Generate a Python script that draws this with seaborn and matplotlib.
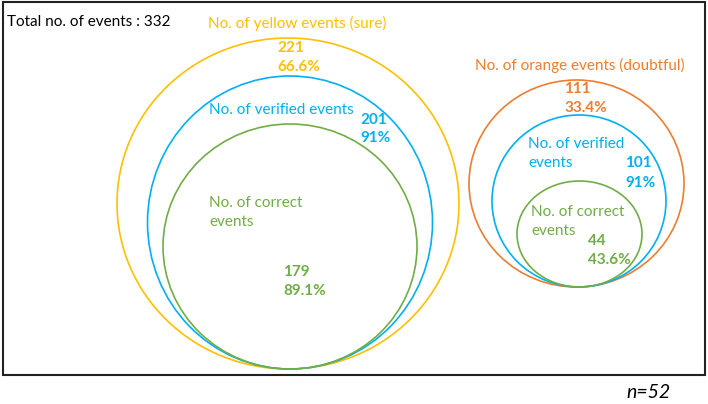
import matplotlib
matplotlib.use("Agg")
import matplotlib.pyplot as plt
from matplotlib.patches import Ellipse, Rectangle
import seaborn as sns

# Данные
total_events = 332
n_cases = 52
groups = ["yellow", "orange"]
group_labels = ["No. of yellow events (sure)", "No. of orange events (doubtful)"]
group_counts = [221, 111]
group_pct = ["66.6%", "33.4%"]
verified_counts = [201, 101]
verified_pct = ["91%", "91%"]
correct_counts = [179, 44]
correct_pct = ["89.1%", "43.6%"]

# Цвета (палитра Office)
c_group = ["#FFC000", "#ED7D31"]
c_verified = "#00B0F0"
c_correct = "#70AD47"

sns.set_theme(style="white")
plt.rcParams["font.family"] = ["Lato", "DejaVu Sans"]

fig = plt.figure(figsize=(7.08, 4.04), dpi=100)
ax = fig.add_axes([0, 0, 1, 1])
ax.set_xlim(0, 708)
ax.set_ylim(404, 0)
ax.axis("off")

# Рамка
ax.add_patch(Rectangle((3, 2), 702, 373, fill=False, lw=1.5, ec="#222222"))

# Геометрия кругов (центр x, центр y, ширина, высота)
outer = [(288, 203.5, 342, 331), (576.5, 183.5, 215, 207)]
middle = [(290, 222.5, 285, 293), (579, 201, 174, 172)]
inner = [(290, 246.5, 254, 245), (579.5, 234, 125, 106)]

for i in range(len(groups)):
    for geo, col in [(outer[i], c_group[i]), (middle[i], c_verified), (inner[i], c_correct)]:
        ax.add_patch(Ellipse((geo[0], geo[1]), geo[2], geo[3], fill=False, lw=1.2, ec=col))

fs = 11
ax.text(7, 22, f"Total no. of events : {total_events}", fontsize=fs, color="black", va="center")

# Левая группа
ax.text(208, 23, group_labels[0], fontsize=fs, color=c_group[0], va="center")
ax.text(277, 48, str(group_counts[0]), fontsize=fs, color=c_group[0], va="center", fontweight="bold")
ax.text(277, 67, group_pct[0], fontsize=fs, color=c_group[0], va="center", fontweight="bold")
ax.text(209, 110, "No. of verified events", fontsize=fs, color=c_verified, va="center")
ax.text(360, 120, str(verified_counts[0]), fontsize=fs, color=c_verified, va="center", fontweight="bold")
ax.text(360, 138, verified_pct[0], fontsize=fs, color=c_verified, va="center", fontweight="bold")
ax.text(209, 203, "No. of correct", fontsize=fs, color=c_correct, va="center")
ax.text(209, 222, "events", fontsize=fs, color=c_correct, va="center")
ax.text(283, 272, str(correct_counts[0]), fontsize=fs, color=c_correct, va="center", fontweight="bold")
ax.text(283, 291, correct_pct[0], fontsize=fs, color=c_correct, va="center", fontweight="bold")

# Правая группа
ax.text(475, 65, group_labels[1], fontsize=fs, color=c_group[1], va="center")
ax.text(564, 89, str(group_counts[1]), fontsize=fs, color=c_group[1], va="center", fontweight="bold")
ax.text(564, 108, group_pct[1], fontsize=fs, color=c_group[1], va="center", fontweight="bold")
ax.text(528, 144, "No. of verified", fontsize=fs, color=c_verified, va="center")
ax.text(528, 163, "events", fontsize=fs, color=c_verified, va="center")
ax.text(625, 163, str(verified_counts[1]), fontsize=fs, color=c_verified, va="center", fontweight="bold")
ax.text(625, 183, verified_pct[1], fontsize=fs, color=c_verified, va="center", fontweight="bold")
ax.text(531, 212, "No. of correct", fontsize=fs, color=c_correct, va="center")
ax.text(531, 231, "events", fontsize=fs, color=c_correct, va="center")
ax.text(588, 241, str(correct_counts[1]), fontsize=fs, color=c_correct, va="center", fontweight="bold")
ax.text(588, 260, correct_pct[1], fontsize=fs, color=c_correct, va="center", fontweight="bold")

ax.text(626, 393, f"n={n_cases}", fontsize=14, style="italic", color="black", va="center")

fig.savefig("out.png", dpi=100)
